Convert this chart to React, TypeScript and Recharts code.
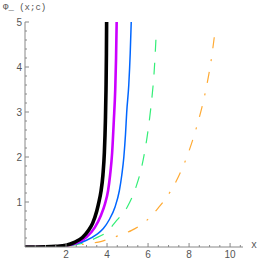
import { LineChart, Line, XAxis, YAxis } from "recharts";

// curves, one per value of c
const black = [
  { x: 0, y: 0 }, { x: 1, y: 0.005 }, { x: 1.5, y: 0.015 }, { x: 2, y: 0.04 },
  { x: 2.4, y: 0.1 }, { x: 2.8, y: 0.21 }, { x: 3.1, y: 0.37 }, { x: 3.3, y: 0.53 },
  { x: 3.5, y: 0.8 }, { x: 3.6, y: 0.99 }, { x: 3.7, y: 1.22 }, { x: 3.8, y: 1.6 },
  { x: 3.87, y: 2.1 }, { x: 3.92, y: 2.8 }, { x: 3.95, y: 3.5 }, { x: 3.97, y: 4.3 },
  { x: 3.98, y: 5 },
];
const magenta = [
  { x: 0, y: 0 }, { x: 1, y: 0.005 }, { x: 1.5, y: 0.012 }, { x: 2, y: 0.03 },
  { x: 2.5, y: 0.09 }, { x: 3, y: 0.22 }, { x: 3.4, y: 0.43 }, { x: 3.7, y: 0.7 },
  { x: 3.9, y: 0.96 }, { x: 4.05, y: 1.25 }, { x: 4.15, y: 1.6 }, { x: 4.25, y: 2.1 },
  { x: 4.33, y: 2.8 }, { x: 4.4, y: 3.5 }, { x: 4.44, y: 4.2 }, { x: 4.47, y: 5 },
];
const blue = [
  { x: 0, y: 0 }, { x: 1, y: 0.004 }, { x: 1.5, y: 0.01 }, { x: 2, y: 0.025 },
  { x: 2.5, y: 0.07 }, { x: 3, y: 0.15 }, { x: 3.5, y: 0.28 }, { x: 3.82, y: 0.41 },
  { x: 4.1, y: 0.6 }, { x: 4.39, y: 0.89 }, { x: 4.6, y: 1.25 }, { x: 4.72, y: 1.6 },
  { x: 4.82, y: 2.0 }, { x: 4.9, y: 2.5 }, { x: 4.96, y: 3.0 }, { x: 5.06, y: 3.6 },
  { x: 5.13, y: 4.3 }, { x: 5.18, y: 5 },
];
const green = [
  { x: 0, y: 0 }, { x: 1, y: 0.003 }, { x: 2, y: 0.02 }, { x: 2.5, y: 0.05 },
  { x: 3, y: 0.11 }, { x: 3.41, y: 0.19 }, { x: 4, y: 0.34 }, { x: 4.47, y: 0.59 },
  { x: 5, y: 0.9 }, { x: 5.41, y: 1.33 }, { x: 5.7, y: 1.8 }, { x: 6.07, y: 2.84 },
  { x: 6.2, y: 3.37 }, { x: 6.29, y: 3.84 }, { x: 6.4, y: 4.76 },
];
const orange = [
  { x: 0, y: 0 }, { x: 1, y: 0.002 }, { x: 2, y: 0.02 }, { x: 2.5, y: 0.04 },
  { x: 3, y: 0.07 }, { x: 3.58, y: 0.11 }, { x: 4.1, y: 0.18 }, { x: 4.6, y: 0.26 },
  { x: 5.2, y: 0.37 }, { x: 5.93, y: 0.59 }, { x: 6.5, y: 0.87 }, { x: 7.07, y: 1.22 },
  { x: 7.48, y: 1.56 }, { x: 7.89, y: 2.0 }, { x: 8.37, y: 2.67 }, { x: 8.78, y: 3.41 },
  { x: 9.1, y: 4.22 }, { x: 9.28, y: 4.85 },
];

const xTicks = [0.5, 1, 1.5, 2, 2.5, 3, 3.5, 4, 4.5, 5, 5.5, 6, 6.5, 7, 7.5, 8, 8.5, 9, 9.5, 10, 10.5];
const xLabels = [2, 4, 6, 8, 10];
const yTicks = [
  0.2, 0.4, 0.6, 0.8, 1, 1.2, 1.4, 1.6, 1.8, 2, 2.2, 2.4, 2.6, 2.8, 3,
  3.2, 3.4, 3.6, 3.8, 4, 4.2, 4.4, 4.6, 4.8, 5,
];
const yLabels = [1, 2, 3, 4, 5];

const font = "'Liberation Sans', Arial, sans-serif";

function XTick(props: any) {
  const { x, y, payload } = props;
  const v = payload.value;
  const major = xLabels.includes(v);
  return (
    <g>
      <line x1={x} x2={x} y1={y} y2={y - (major ? 4 : 2)} stroke="#888" />
      {major && (
        <text x={x} y={y + 11} textAnchor="middle" fontSize={10} fill="#555" fontFamily={font}>
          {v}
        </text>
      )}
    </g>
  );
}

function YTick(props: any) {
  const { x, y, payload } = props;
  const v = payload.value;
  const major = yLabels.includes(v);
  return (
    <g>
      <line x1={x} x2={x + (major ? 4 : 2)} y1={y} y2={y} stroke="#888" />
      {major && (
        <text x={x - 3} y={y} textAnchor="end" dominantBaseline="central" fontSize={10} fill="#555" fontFamily={font}>
          {v}
        </text>
      )}
    </g>
  );
}

export default function App() {
  return (
    <div style={{ position: "fixed", left: 0, top: 0, width: 262, height: 262, background: "#fff" }}>
      <LineChart width={262} height={262} margin={{ top: 22, right: 19, bottom: 0, left: 0 }}>
        <XAxis
          type="number"
          dataKey="x"
          domain={[0, 10.63]}
          ticks={xTicks}
          interval={0}
          tick={<XTick />}
          tickLine={false}
          tickSize={0}
          tickMargin={0}
          axisLine={{ stroke: "#888" }}
          height={15}
          allowDataOverflow
        />
        <YAxis
          type="number"
          dataKey="y"
          domain={[0, 5]}
          ticks={yTicks}
          interval={0}
          tick={<YTick />}
          tickLine={false}
          tickSize={0}
          tickMargin={0}
          axisLine={{ stroke: "#888" }}
          width={25}
          allowDataOverflow
        />
        <Line data={orange} dataKey="y" type="monotone" stroke="#ffaa33" strokeWidth={1.2}
          strokeDasharray="11 11 2 11" dot={false} isAnimationActive={false} />
        <Line data={green} dataKey="y" type="monotone" stroke="#33ee77" strokeWidth={1.2}
          strokeDasharray="12 11" dot={false} isAnimationActive={false} />
        <Line data={blue} dataKey="y" type="monotone" stroke="#0066ff" strokeWidth={1.5}
          dot={false} isAnimationActive={false} />
        <Line data={magenta} dataKey="y" type="monotone" stroke="#cc00ff" strokeWidth={2.6}
          dot={false} isAnimationActive={false} />
        <Line data={black} dataKey="y" type="monotone" stroke="#000" strokeWidth={3.6}
          dot={false} isAnimationActive={false} />
      </LineChart>
      <div style={{ position: "absolute", left: 3, top: 3, fontSize: 9, color: "#555", fontFamily: "'Liberation Mono', monospace", whiteSpace: "pre" }}>
        Φ_ (x;c)
      </div>
      <div style={{ position: "absolute", left: 251, top: 240, fontSize: 10, color: "#555", fontFamily: "'Liberation Mono', monospace" }}>
        x
      </div>
    </div>
  );
}
